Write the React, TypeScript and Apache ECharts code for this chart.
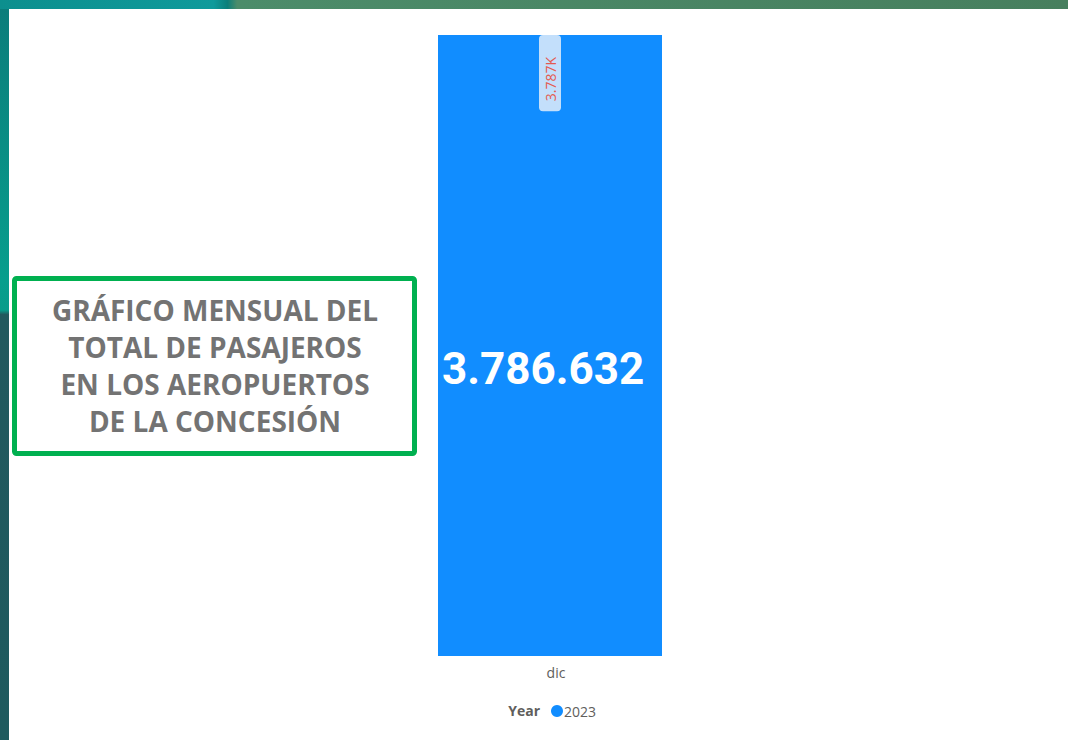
import React, { useEffect, useRef } from "react";
import * as echarts from "echarts";

const categories = ["dic"];
const seriesName = "2023";
const values = [3786632];
const legendTitle = "Year";
const cardTitle = ["GRÁFICO MENSUAL DEL", "TOTAL DE PASAJEROS", "EN LOS AEROPUERTOS", "DE LA CONCESIÓN"];

function groupDots(n: number): string {
  const s = Math.round(n).toString();
  return s.replace(/\B(?=(\d{3})+(?!\d))/g, ".");
}

export default function App() {
  const ref = useRef<HTMLDivElement>(null);
  useEffect(() => {
    if (!ref.current) return;
    const chart = echarts.init(ref.current, null, { renderer: "svg" });
    const total = values.reduce((a, b) => a + b, 0);
    chart.setOption({
      animation: false,
      backgroundColor: "#ffffff",
      grid: { left: 438, right: 406, top: 35, bottom: 84 },
      xAxis: {
        type: "category",
        data: categories,
        axisLine: { show: false },
        axisTick: { show: false },
        axisLabel: { color: "#605e5c", fontSize: 14, margin: 9, fontFamily: "Open Sans", padding: [0, 0, 0, 12] },
      },
      yAxis: {
        type: "value",
        min: 0,
        max: (v: any) => v.max,
        show: false,
        splitLine: { show: false },
      },
      legend: {
        data: [seriesName],
        left: 546,
        top: 699,
        icon: "circle",
        itemWidth: 12,
        itemHeight: 12,
        textStyle: { color: "#605e5c", fontSize: 14, fontFamily: "Open Sans", padding: [0, 0, 0, -4] },
      },
      series: [
        {
          type: "bar",
          name: seriesName,
          data: values,
          barWidth: "100%",
          itemStyle: { color: "#118DFF" },
          label: {
            show: true,
            position: "insideTop",
            distance: 0,
            rotate: 90,
            align: "right",
            verticalAlign: "middle",
            formatter: (p: any) => groupDots(p.value / 1000) + "K",
            color: "#e35a50",
            fontSize: 14,
            fontFamily: "Open Sans",
            lineHeight: 16,
            backgroundColor: "#c3dffb",
            borderRadius: 4,
            padding: [3, 22, 3, 10],
          },
        },
      ],
      graphic: [
        {
          type: "rect",
          z: 100,
          shape: { x: 0, y: 0, width: 1068, height: 9 },
          style: {
            fill: new echarts.graphic.LinearGradient(0, 0, 1, 0, [
              { offset: 0, color: "#0c8f8e" },
              { offset: 0.2, color: "#0f9a9b" },
              { offset: 0.213, color: "#0c7f7a" },
              { offset: 0.222, color: "#4c8c6a" },
              { offset: 1, color: "#477f5e" },
            ]),
          },
          silent: true,
        },
        {
          type: "rect",
          z: 100,
          shape: { x: 0, y: 9, width: 9, height: 731 },
          style: {
            fill: new echarts.graphic.LinearGradient(0, 0, 0, 1, [
              { offset: 0, color: "#0b7d7b" },
              { offset: 0.37, color: "#079e8d" },
              { offset: 0.412, color: "#089c8b" },
              { offset: 0.418, color: "#22595e" },
              { offset: 1, color: "#1e5a5e" },
            ]),
          },
          silent: true,
        },
        {
          type: "rect",
          z: 100,
          shape: { x: 14.5, y: 278.5, width: 400, height: 175, r: 2 },
          style: { fill: "#ffffff", stroke: "#00b050", lineWidth: 5 },
          silent: true,
        },
        {
          type: "text",
          z: 101,
          x: 215,
          y: 365,
          style: {
            text: cardTitle.join("\n"),
            fill: "#737373",
            font: "bold 28px 'Open Sans'",
            lineHeight: 37,
            align: "center",
            verticalAlign: "middle",
            textAlign: "center",
            textVerticalAlign: "middle",
          },
          silent: true,
        },
        {
          type: "text",
          z: 101,
          x: 543,
          y: 369,
          style: {
            text: groupDots(total),
            fill: "#ffffff",
            font: "bold 44px Roboto",
            align: "center",
            verticalAlign: "middle",
            textAlign: "center",
            textVerticalAlign: "middle",
          },
          silent: true,
        },
        {
          type: "text",
          z: 101,
          x: 540,
          y: 710,
          style: {
            text: legendTitle,
            fill: "#605e5c",
            font: "bold 14px 'Open Sans'",
            align: "right",
            verticalAlign: "middle",
            textAlign: "right",
            textVerticalAlign: "middle",
          },
          silent: true,
        },
      ],
    });
    return () => chart.dispose();
  }, []);
  return (
    <div
      ref={ref}
      style={{ position: "fixed", left: 0, top: 0, width: 1068, height: 740 }}
    />
  );
}
